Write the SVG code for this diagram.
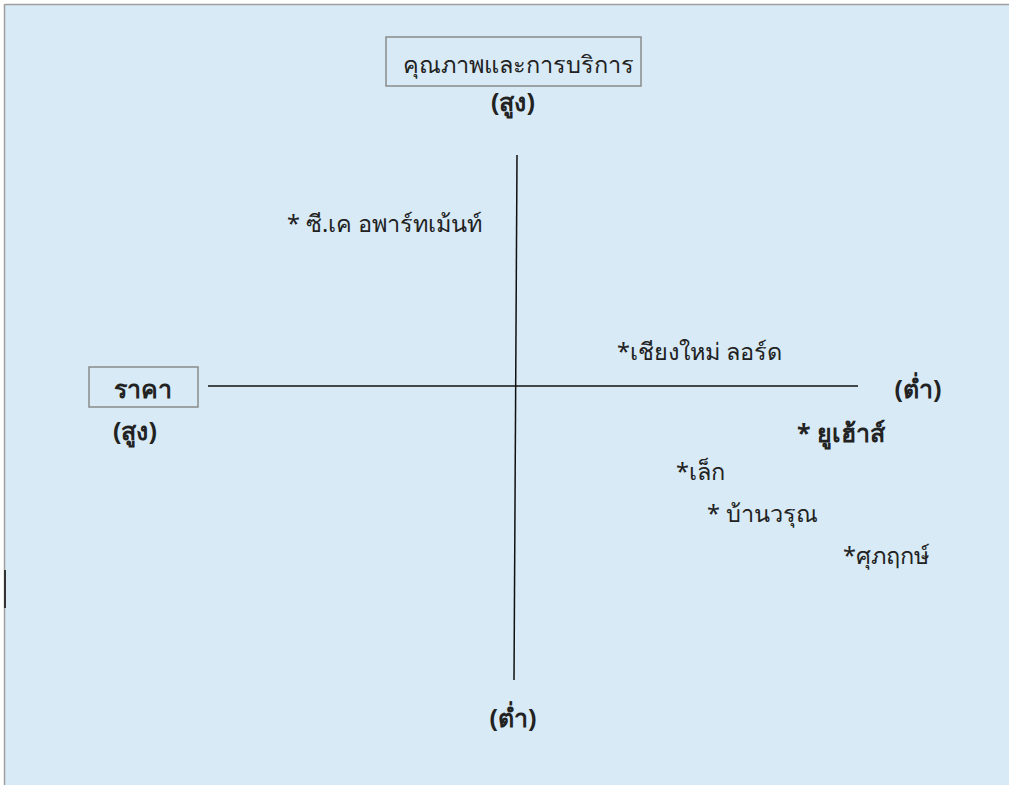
<svg xmlns="http://www.w3.org/2000/svg" width="1009" height="785" viewBox="0 0 1009 785">
<style>
.t{font-family:"Noto Sans","DejaVu Sans",sans-serif;font-size:23.5px;fill:#222}
.b{font-weight:bold;font-size:25px}
.box{fill:none;stroke:#8a8a8a;stroke-width:1.5}
.ax{stroke:#111;stroke-width:1.5;fill:none}
</style>
<rect x="0" y="0" width="1009" height="785" fill="#ffffff"/>
<rect x="5" y="5" width="1004" height="780" fill="#d7eaf6"/>
<line x1="5" y1="4.5" x2="1009" y2="4.5" stroke="#a0a0a0" stroke-width="1.5"/>
<line x1="4.5" y1="4" x2="4.5" y2="785" stroke="#a0a0a0" stroke-width="1.5"/>
<line x1="5" y1="570" x2="5" y2="608" stroke="#333" stroke-width="2"/>
<g id="connectors">
<line class="ax" x1="517" y1="155" x2="514" y2="680"/>
<line class="ax" x1="208" y1="386" x2="858" y2="386"/>
</g>
<g id="quality">
<rect class="box" x="386" y="37" width="255" height="49"/>
<text class="t" x="518" y="73" text-anchor="middle">คุณภาพและการบริการ</text>
<text class="t b" x="513" y="111" text-anchor="middle">(สูง)</text>
</g>
<g id="price">
<rect class="box" x="89" y="367" width="109" height="40"/>
<text class="t b" x="143" y="398" text-anchor="middle">ราคา</text>
<text class="t b" x="135" y="440" text-anchor="middle">(สูง)</text>
</g>
<g id="low-right"><text class="t b" x="918" y="398" text-anchor="middle">(ต่ำ)</text></g>
<g id="low-bottom"><text class="t b" x="513" y="727" text-anchor="middle">(ต่ำ)</text></g>
<g id="ck"><text class="t" x="287" y="232">* ซี.เค อพาร์ทเม้นท์</text></g>
<g id="chiangmai"><text class="t" x="617" y="360">*เชียงใหม่ ลอร์ด</text></g>
<g id="uhouse"><text class="t b" x="797" y="442">*  ยูเฮ้าส์</text></g>
<g id="lek"><text class="t" x="676" y="480">*เล็ก</text></g>
<g id="baanwarun"><text class="t" x="707" y="522">* บ้านวรุณ</text></g>
<g id="suparirk"><text class="t" x="843" y="564">*ศุภฤกษ์</text></g>
</svg>
